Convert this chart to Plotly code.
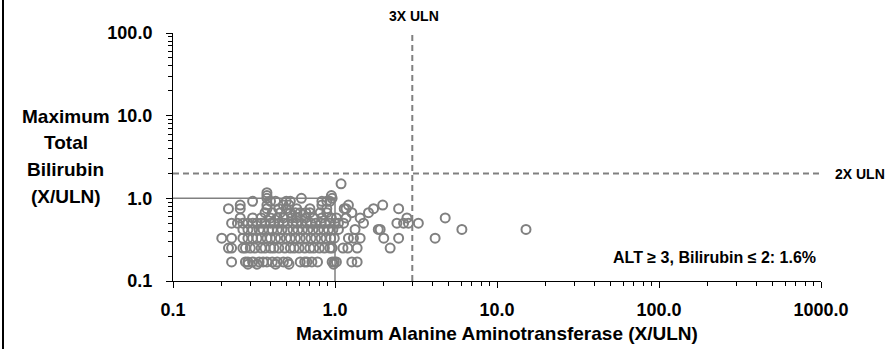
import plotly.graph_objects as go

# Bilirubin rows (X/ULN) and the ALT values (X/ULN) of the subjects in each row
row_bili = [0.16, 0.17, 0.25, 0.33, 0.42, 0.50, 0.58, 0.67, 0.75, 0.83, 0.92, 1.00, 1.08, 1.17, 1.50]
row_alt = [
    [0.29, 0.33, 0.43, 0.52, 0.98],
    [0.23, 0.28, 0.29, 0.31, 0.34, 0.36, 0.38, 0.41, 0.44, 0.48, 0.51, 0.61, 0.65, 0.67, 0.72, 0.78, 0.96, 0.99, 1.02, 1.27, 1.37],
    [0.22, 0.23, 0.27, 0.28, 0.30, 0.32, 0.35, 0.37, 0.40, 0.42, 0.45, 0.49, 0.53, 0.56, 0.60, 0.65, 0.70, 0.74, 0.80, 0.86, 0.93, 0.96, 1.12, 1.20, 1.37, 2.19],
    [0.20, 0.23, 0.27, 0.29, 0.31, 0.33, 0.35, 0.38, 0.40, 0.43, 0.46, 0.50, 0.53, 0.57, 0.61, 0.66, 0.71, 0.76, 0.82, 0.88, 0.94, 0.99, 1.21, 1.30, 1.43, 2.00, 2.47, 4.15],
    [0.27, 0.29, 0.31, 0.34, 0.36, 0.39, 0.41, 0.44, 0.47, 0.51, 0.55, 0.59, 0.63, 0.68, 0.73, 0.79, 0.85, 0.91, 0.97, 1.05, 1.33, 1.85, 1.90, 6.07, 15.1],
    [0.23, 0.25, 0.27, 0.29, 0.31, 0.33, 0.35, 0.37, 0.40, 0.42, 0.45, 0.48, 0.51, 0.55, 0.58, 0.62, 0.67, 0.71, 0.76, 0.82, 0.87, 0.93, 1.00, 1.05, 1.13, 1.50, 2.41, 2.65, 2.84, 3.27],
    [0.26, 0.31, 0.35, 0.40, 0.44, 0.48, 0.54, 0.58, 0.66, 0.74, 0.83, 0.95, 1.02, 1.17, 1.43, 2.78, 4.79],
    [0.37, 0.41, 0.46, 0.53, 0.57, 0.61, 0.66, 0.70, 0.81, 0.89, 1.27, 1.61],
    [0.22, 0.26, 0.38, 0.45, 0.50, 0.58, 0.70, 0.89, 1.14, 1.17, 1.73, 2.47],
    [0.26, 0.38, 0.48, 0.52, 0.83, 1.21, 1.97],
    [0.31, 0.40, 0.43, 0.50, 0.53, 0.83, 0.89, 0.93],
    [0.38, 0.62, 0.96],
    [0.38, 0.95],
    [0.38],
    [1.09],
]

x_tickvals = [0.1, 1, 10, 100, 1000]
x_ticktext = ["0.1", "1.0", "10.0", "100.0", "1000.0"]
y_tickvals = [0.1, 1, 10, 100]
y_ticktext = ["0.1", "1.0", "10.0", "100.0"]

# reference lines
uln_x = [0.1, 1, 1]
uln_y = [1, 1, 0.1]
alt3_x = [3, 3]
alt3_y = [0.1, 100]
bili2_x = [0.1, 1000]
bili2_y = [2, 2]

xs, ys = [], []
for b, alts in zip(row_bili, row_alt):
    for a in alts:
        xs.append(a)
        ys.append(b)

GRAY = "#808080"
FONT = "Liberation Sans, Arial, sans-serif"

fig = go.Figure()
fig.add_trace(go.Scatter(x=uln_x, y=uln_y, mode="lines",
                         line=dict(color=GRAY, width=1.5), hoverinfo="skip"))
fig.add_trace(go.Scatter(x=alt3_x, y=alt3_y, mode="lines",
                         line=dict(color=GRAY, width=2, dash="6px,4px"), hoverinfo="skip"))
fig.add_trace(go.Scatter(x=bili2_x, y=bili2_y, mode="lines",
                         line=dict(color=GRAY, width=2, dash="6px,4px"), hoverinfo="skip"))
fig.add_trace(go.Scatter(x=xs, y=ys, mode="markers",
                         marker=dict(symbol="circle-open", size=9, color=GRAY,
                                     line=dict(width=2, color=GRAY))))

W, H = 895, 349
L, R, T, B = 173, 821, 33, 281
pw, ph = R - L, B - T

def px(x):
    return (x - L) / pw

def py(y):
    return (B - y) / ph

fig.update_layout(
    width=W, height=H,
    margin=dict(l=L, r=W - R, t=T, b=H - B),
    paper_bgcolor="white", plot_bgcolor="white",
    showlegend=False,
    font=dict(family=FONT, color="black"),
    xaxis=dict(type="log", range=[-1, 3], tickvals=x_tickvals, ticktext=x_ticktext,
               showgrid=False, zeroline=False, showline=True, linecolor="black", linewidth=1,
               ticks="outside", ticklen=6, tickcolor="black",
               minor=dict(ticks="outside", ticklen=4, tickcolor="black", dtick="D1", showgrid=False),
               tickfont=dict(size=18, family=FONT, color="black", weight="bold"),
               ticklabelstandoff=6),
    yaxis=dict(type="log", range=[-1, 2], tickvals=y_tickvals, ticktext=y_ticktext,
               showgrid=False, zeroline=False, showline=True, linecolor="black", linewidth=1,
               ticks="outside", ticklen=6, tickcolor="black",
               minor=dict(ticks="outside", ticklen=4, tickcolor="black", dtick="D1", showgrid=False),
               tickfont=dict(size=18, family=FONT, color="black", weight="bold"),
               ticklabelstandoff=10),
)

ann = []
def add(text, x, y, size, xanchor="center"):
    ann.append(dict(text=text, x=px(x), y=py(y), xref="paper", yref="paper",
                    xanchor=xanchor, yanchor="middle", showarrow=False,
                    font=dict(size=size, family=FONT, color="black", weight="bold")))

add("3X ULN", 414, 16, 14)
add("2X ULN", 860, 174, 14)
add("ALT \u2265 3, Bilirubin \u2264 2: 1.6%", 818, 257, 16, xanchor="right")
for i, t in enumerate(["Maximum", "Total", "Bilirubin", "(X/ULN)"]):
    add(t, 66, 116 + i * 26.7, 19)
add("Maximum Alanine Aminotransferase (X/ULN)", 497, 333, 19)
fig.update_layout(annotations=ann)

fig.add_shape(type="line", xref="paper", yref="paper",
              x0=px(3), x1=px(3), y0=py(0), y1=py(H), line=dict(color="black", width=2))

fig.write_html("out.html",
               config={"displayModeBar": False},
               post_script="document.body.style.margin='0';document.body.style.overflow='hidden';")
